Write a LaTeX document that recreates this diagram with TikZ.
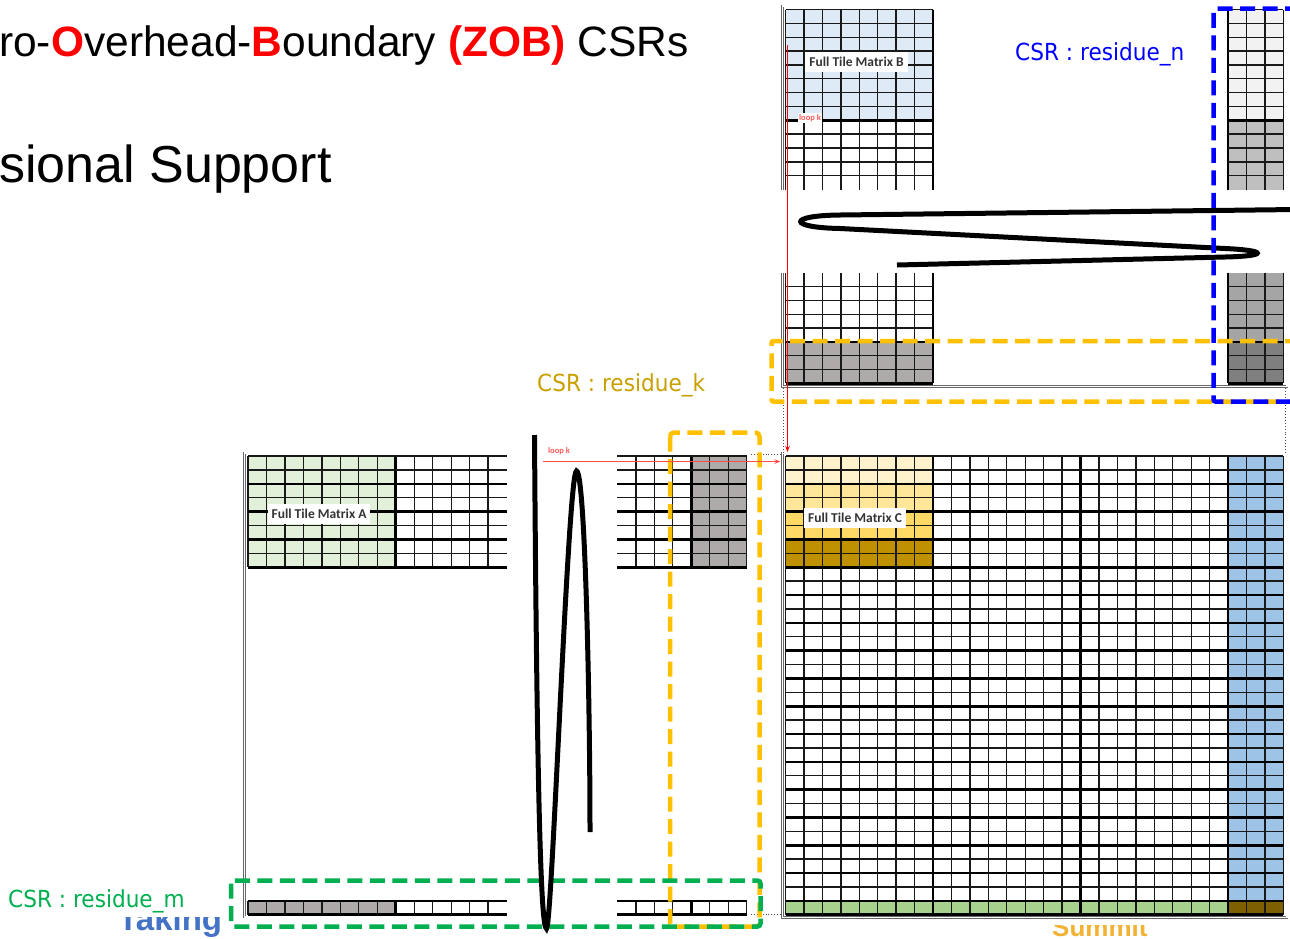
\documentclass[tikz,border=0pt]{standalone}
\usepackage{fontspec}
\setmainfont{Liberation Sans}
\newfontfamily\lblfont[FakeStretch=0.92]{DejaVu Sans}
\newfontfamily\tilefont{Carlito}
\usetikzlibrary{arrows.meta}
\definecolor{zobred}{HTML}{FF0000}
\definecolor{cYa}{HTML}{FFF2CC}
\definecolor{cYb}{HTML}{FFE699}
\definecolor{cYc}{HTML}{FFD966}
\definecolor{cYd}{HTML}{BF9000}
\definecolor{cBlue}{HTML}{9DC3E6}
\definecolor{cGreen}{HTML}{A9D18E}
\definecolor{cBrown}{HTML}{7F6000}
\definecolor{aGreen}{HTML}{E2F0D9}
\definecolor{mGray}{HTML}{AEAAAA}
\definecolor{bBlue}{HTML}{DEEBF7}
\definecolor{bG1}{HTML}{F2F2F2}
\definecolor{bG2}{HTML}{BFBFBF}
\definecolor{bG3}{HTML}{A5A5A5}
\definecolor{bG4}{HTML}{7F7F7F}
\definecolor{dGold}{HTML}{FFC000}
\definecolor{dGreen}{HTML}{00B050}
\definecolor{dBlue}{HTML}{0000FF}
\definecolor{kGold}{HTML}{C9A000}
\definecolor{takeBlue}{HTML}{4472C4}
\definecolor{sumGold}{HTML}{F2B233}
\tikzset{
  gthin/.style={draw=black!90, line width=1.35pt},
  gthick/.style={draw=black, line width=2.6pt},
  mframe/.style={draw=black!60, line width=0.9pt, double=white, double distance=1.1pt},
  dotconn/.style={draw=black!70, line width=0.9pt, dotted},
  csrdash/.style={line width=4.5pt, dash pattern=on 15pt off 7.5pt},
  squig/.style={draw=black, line width=5pt},
  tilelbl/.style={fill=white, inner xsep=4pt, inner ysep=0pt, minimum height=20pt, text=black!80, font=\tilefont\bfseries\fontsize{13.5}{16}\selectfont},
  looplbl/.style={inner sep=1pt, text=red!65, font=\tilefont\bfseries\fontsize{8.5}{9}\selectfont},
  loopar/.style={draw=red, line width=1.2pt, -{Stealth[length=6pt,width=4.5pt]}},
  csrlbl/.style={anchor=base west, inner sep=0pt, font=\lblfont\fontsize{23.5}{28}\selectfont},
}
\begin{document}
\begin{tikzpicture}[x=1pt,y=-1pt]
\useasboundingbox (0,0) rectangle (1290,938);
\fill[white] (0,0) rectangle (1290,938);
% partly hidden slide text
\node[anchor=base west, inner sep=0pt, text=takeBlue, font=\bfseries\fontsize{33}{38}\selectfont] (taking) at (118,930.5) {Taking};
\node[anchor=base west, inner sep=0pt, text=sumGold, font=\bfseries\fontsize{26}{30}\selectfont] (summit) at (1052,936.5) {Summit};
\fill[white] (0,0) rectangle (231,917);
\fill[white] (231,0) rectangle (1290,925);
% titles
\node[anchor=base west, inner sep=0pt, font=\fontsize{42.5}{50}\selectfont] (title1) at (-1,56)
  {ro-\textcolor{zobred}{\textbf{O}}verhead-\textcolor{zobred}{\textbf{B}}oundary \textcolor{zobred}{\textbf{(ZOB)}} CSRs};
\node[anchor=base west, inner sep=0pt, font=\fontsize{52}{60}\selectfont] (title2) at (-1,182) {sional Support};

% ---------------- Matrix B ----------------
\begin{scope}[shift={(785.5pt,-9.5pt)}, x=18.44pt, y=-13.85pt]
  \fill[bBlue] (0,0) rectangle (8,8);
  \fill[mGray] (0,24) rectangle (8,27);
  \fill[bG1] (24,0) rectangle (27,8);
  \fill[bG2] (24,8) rectangle (27,13);
  \fill[bG3] (24,19) rectangle (27,24);
  \fill[bG4] (24,24) rectangle (27,27);
  \foreach \i in {0,...,8,24,25,26,27} {
    \draw[gthin] (\i,0) -- (\i,13);
    \draw[gthin] (\i,19) -- (\i,27);
  }
  \foreach \i in {8,24} {
    \draw[gthick] (\i,0) -- (\i,13);
    \draw[gthick] (\i,19) -- (\i,27);
  }
  \foreach \j in {0,...,12,20,21,...,27} {
    \draw[gthin] (0,\j) -- (8,\j);
    \draw[gthin] (24,\j) -- (27,\j);
  }
  \foreach \j in {8,24,27} {
    \draw[gthick] (0,\j) -- (8,\j);
    \draw[gthick] (24,\j) -- (27,\j);
  }
\end{scope}
\draw[mframe] (782.5,190) -- (782.5,6) -- (1287,6) -- (1287,190);
\draw[mframe] (782.5,273) -- (782.5,386.5) -- (1287,386.5) -- (1287,273);

% ---------------- Matrix A ----------------
\begin{scope}[shift={(248pt,-456pt)}, x=18.47pt, y=-13.9pt]
  \fill[aGreen] (0,0) rectangle (8,8);
  \fill[mGray] (24,0) rectangle (27,8);
  \fill[mGray] (0,32) rectangle (8,33);
  \foreach \i in {0,...,13,21,22,...,27} {
    \draw[gthin] (\i,0) -- (\i,8);
    \draw[gthin] (\i,32) -- (\i,33);
  }
  \foreach \i in {8,24} {
    \draw[gthick] (\i,0) -- (\i,8);
    \draw[gthick] (\i,32) -- (\i,33);
  }
  \foreach \j in {0,...,8,32,33} {
    \draw[gthin] (0,\j) -- (14,\j);
    \draw[gthin] (20,\j) -- (27,\j);
  }
  \foreach \j in {2,4,6,8,32,33} {
    \draw[gthick] (0,\j) -- (14,\j);
    \draw[gthick] (20,\j) -- (27,\j);
  }
\end{scope}
\draw[mframe] (507,453) -- (244.5,453) -- (244.5,917) -- (507,917);
\draw[mframe] (617,453) -- (750,453) -- (750,917) -- (617,917);

% ---------------- Matrix C ----------------
\begin{scope}[shift={(785.5pt,-456pt)}, x=18.44pt, y=-13.9pt]
  \fill[cYa] (0,0) rectangle (8,2);
  \fill[cYb] (0,2) rectangle (8,4);
  \fill[cYc] (0,4) rectangle (8,6);
  \fill[cYd] (0,6) rectangle (8,8);
  \fill[cBlue] (24,0) rectangle (27,32);
  \fill[cGreen] (0,32) rectangle (24,33);
  \fill[cBrown] (24,32) rectangle (27,33);
  \foreach \i in {0,...,27} \draw[gthin] (\i,0) -- (\i,33);
  \foreach \i in {8,16,24} \draw[gthick] (\i,0) -- (\i,33);
  \foreach \j in {0,...,33} \draw[gthin] (0,\j) -- (27,\j);
  \foreach \j in {2,4,...,32,33} \draw[gthick] (0,\j) -- (27,\j);
\end{scope}
\draw[mframe] (782.5,453) rectangle (1287,917.5);

% ---------------- dotted connectors ----------------
\coordinate (Bbl) at (783.5,388);
\coordinate (Bbr) at (1285.5,388);
\coordinate (Ctl) at (783.5,452);
\coordinate (Ctr) at (1285.5,452);
\coordinate (Atr) at (751,454.5);
\coordinate (Abr) at (751,914);
\coordinate (Cl1) at (781.5,454.5);
\coordinate (Cl2) at (781.5,914);
\draw[dotconn] (Bbl) -- (Ctl);
\draw[dotconn] (Bbr) -- (Ctr);
\draw[dotconn] (Atr) -- (Cl1);
\draw[dotconn] (Abr) -- (Cl2);

% ---------------- break squiggles ----------------
\draw[squig] (1296,209.5) -- (840,215)
  .. controls (787.5,215.5) and (787.5,227.5) .. (840,228.5)
  -- (1225,248.5)
  .. controls (1268,250.5) and (1268,256) .. (1225,257)
  -- (897,265);

% ---------------- dashed CSR boxes ----------------
\draw[csrdash, draw=dGold, rounded corners=2pt] (1300,341) -- (771.5,341) -- (771.5,401.5) -- (1300,401.5);
\draw[csrdash, draw=dBlue, rounded corners=2pt] (1300,8.5) -- (1213.5,8.5) -- (1213.5,401.5) -- (1300,401.5);
\draw[csrdash, draw=dGold, rounded corners=4pt] (670,432.5) rectangle (759.5,926.5);
\draw[csrdash, draw=dGreen, rounded corners=3pt] (231,880.5) rectangle (760.5,926.5);

\draw[squig] (534.5,435) .. controls (537,800) and (541,928.5) .. (546.5,928.5)
  .. controls (552,928.5) and (568,471) .. (576.5,471)
  .. controls (585,471) and (590,700) .. (590,832);

% ---------------- loop k arrows ----------------
\coordinate (lkv1) at (787.5,45);
\coordinate (lkv2) at (787.5,452);
\coordinate (lkh1) at (543,461.5);
\coordinate (lkh2) at (780.5,461.5);
\draw[loopar] (lkv1) -- (lkv2);
\draw[loopar, draw=red!70, line width=1.6pt] (lkh1) -- (lkh2);
\node[looplbl, fill=white] (lkvl) at (810,118) {loop k};
\node[looplbl] (lkhl) at (559,451) {loop k};

% ---------------- labels ----------------
\node[tilelbl] (ftB) at (856.5,62) {Full Tile Matrix B};
\node[tilelbl] (ftA) at (319,514) {Full Tile Matrix A};
\node[tilelbl] (ftC) at (855,518) {Full Tile Matrix C};
\node[csrlbl, text=dBlue] (csrn) at (1015,60) {CSR : residue\_n};
\node[csrlbl, text=kGold] (csrk) at (537,391) {CSR : residue\_k};
\node[csrlbl, text=dGreen] (csrm) at (8,907) {CSR : residue\_m};
\end{tikzpicture}
\end{document}
